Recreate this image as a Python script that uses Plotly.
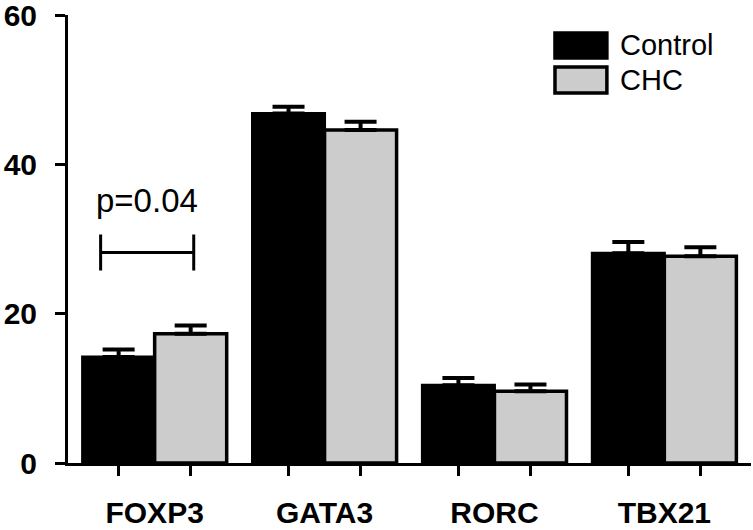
import plotly.graph_objects as go

categories = ["FOXP3", "GATA3", "RORC", "TBX21"]
series_names = ["Control", "CHC"]
control_vals = [14.2, 46.8, 10.4, 28.1]
control_err = [1.0, 0.9, 1.0, 1.5]
chc_vals = [17.3, 44.6, 9.6, 27.7]
chc_err = [1.1, 1.1, 0.9, 1.2]
y_ticks = [0, 20, 40, 60]

# significance annotation (category FOXP3): bracket centre, half-span, height, label
sig_text = "p=0.04"
sig_center = [-0.044]
sig_halfspan = [0.274]
sig_y = [28.2]
sig_label_y = 35.2

FONT = "Arial, Liberation Sans, Helvetica, sans-serif"
x_idx = list(range(len(categories)))
bargap = 0.152
half_bar = (1 - bargap) / 4
bar_centers = [i - half_bar for i in x_idx] + [i + half_bar for i in x_idx]

fig = go.Figure()
fig.add_trace(go.Bar(
    x=x_idx, y=control_vals, name=series_names[0], offsetgroup="a",
    marker=dict(color="black", line=dict(color="black", width=3)),
    error_y=dict(type="data", array=control_err, arrayminus=[0] * len(control_err),
                 symmetric=False, color="black", thickness=4, width=16),
    showlegend=False,
))
fig.add_trace(go.Bar(
    x=x_idx, y=chc_vals, name=series_names[1], offsetgroup="b",
    marker=dict(color="#cccccc", line=dict(color="black", width=3.5)),
    error_y=dict(type="data", array=chc_err, arrayminus=[0] * len(chc_err),
                 symmetric=False, color="black", thickness=4, width=16),
    showlegend=False,
))
# significance bracket drawn as a horizontal error bar with caps
fig.add_trace(go.Scatter(
    x=sig_center, y=sig_y, mode="markers",
    marker=dict(size=1, color="black"),
    error_x=dict(type="data", array=sig_halfspan, symmetric=True,
                 color="black", thickness=3, width=18),
    showlegend=False, hoverinfo="skip",
))
fig.add_annotation(x=sig_center[0], y=sig_label_y, text=sig_text, showarrow=False,
                   font=dict(family=FONT, size=33, color="black"),
                   xanchor="center", yanchor="middle")

# manual legend with large swatches
legend_fills = ["black", "#cccccc"]
legend_rows = [(0.960, 0.904, 0.932), (0.884, 0.826, 0.855)]
for name, fill, (y1, y0, yc) in zip(series_names, legend_fills, legend_rows):
    fig.add_shape(type="rect", xref="paper", yref="paper",
                  x0=0.713, x1=0.789, y0=y0, y1=y1,
                  fillcolor=fill, line=dict(color="black", width=3.5))
    fig.add_annotation(xref="paper", yref="paper", x=0.805, y=yc, text=name,
                       showarrow=False, xanchor="left", yanchor="middle",
                       font=dict(family=FONT, size=29, color="black"))

fig.update_layout(
    width=753, height=530,
    margin=dict(l=68, r=2, t=15, b=67),
    plot_bgcolor="white", paper_bgcolor="white",
    barmode="group", bargap=bargap, bargroupgap=0,
    font=dict(family=FONT, color="black"),
    showlegend=False,
)
fig.update_xaxes(
    range=[-0.51, 3.51], showgrid=False, zeroline=False, automargin=False,
    showline=True, linecolor="black", linewidth=3,
    tickmode="array", tickvals=x_idx, ticktext=categories,
    ticks="outside", ticklen=0, tickcolor="black",
    ticklabelstandoff=21, ticklabeloverflow="allow",
    tickfont=dict(family=FONT, size=30, color="black", weight="bold"),
    minor=dict(tickmode="array", tickvals=bar_centers, ticks="outside",
               ticklen=10, tickwidth=3, tickcolor="black"),
)
fig.update_yaxes(
    range=[0, 60], showgrid=False, zeroline=False, automargin=False,
    showline=True, linecolor="black", linewidth=3,
    tickmode="array", tickvals=y_ticks,
    ticks="outside", ticklen=10, tickwidth=3, tickcolor="black",
    ticklabelstandoff=12, ticklabeloverflow="allow",
    tickfont=dict(family=FONT, size=30, color="black", weight="bold"),
)

fig.write_html("out.html", config={"displayModeBar": False},
               post_script="document.body.style.margin='0px';document.body.style.overflow='hidden';")
